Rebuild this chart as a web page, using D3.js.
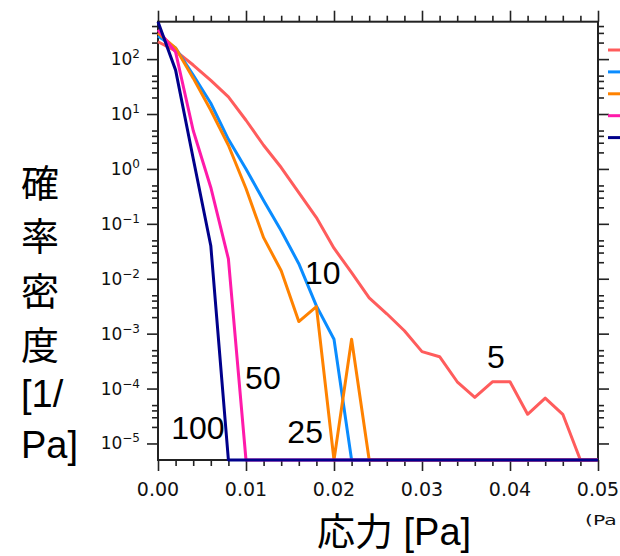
<!DOCTYPE html>
<html>
<head>
<meta charset="utf-8">
<script src="https://cdn.jsdelivr.net/npm/d3@7"></script>
<style>
  body { margin: 0; background: #fff; }
  svg { display: block; }
</style>
</head>
<body>
<div id="container"></div>
<script>
// stress values (Pa) where each PDF was sampled
var stress = [0.000, 0.002, 0.004, 0.006, 0.008, 0.010, 0.012, 0.014, 0.016, 0.018,
    0.020, 0.022, 0.024, 0.026, 0.028, 0.030, 0.032, 0.034, 0.036, 0.038,
    0.040, 0.042, 0.044, 0.046, 0.048, 0.050];

// probability density [1/Pa], one array per case (0 = nothing, drawn on the floor)
var pdf5 = [207, 141, 78, 41, 20.5, 7.7, 2.7, 1.06, 0.37, 0.13,
    0.036, 0.0129, 0.0045, 0.0023, 0.00113, 0.00047, 0.00038, 0.000133, 0.000069, 0.000133,
    0.000133, 0.000034, 0.000067, 0.000034, 0, 0];
var pdf10 = [263, 159, 51, 15.7, 3.46, 1.0, 0.265, 0.075, 0.0188, 0.0032,
    0.00079, 0, 0, 0, 0, 0, 0, 0, 0, 0, 0, 0, 0, 0, 0, 0];
var pdf25 = [299, 159, 45, 11.7, 2.7, 0.44, 0.056, 0.014, 0.00166, 0.0031,
    0, 0.00079, 0, 0, 0, 0, 0, 0, 0, 0, 0, 0, 0, 0, 0, 0];
var pdf50 = [340, 134, 5.0, 0.46, 0.023, 0, 0, 0, 0, 0,
    0, 0, 0, 0, 0, 0, 0, 0, 0, 0, 0, 0, 0, 0, 0, 0];
var pdf100 = [480, 63, 1.55, 0.04, 0, 0, 0, 0, 0, 0,
    0, 0, 0, 0, 0, 0, 0, 0, 0, 0, 0, 0, 0, 0, 0, 0];

var seriesNames = ["5", "10", "25", "50", "100"];
var seriesData = [pdf5, pdf10, pdf25, pdf50, pdf100];
var colors = ["#ff5c5c", "#0a8cff", "#ff8200", "#ff1aaa", "#00008b"];

// where the in-plot labels sit, in data units
var labelX = [0.0374, 0.0167, 0.0147, 0.0099, 0.0015];
var labelY = [2.4e-4, 8.1e-3, 1.0e-5, 9.8e-5, 1.19e-5];

var xTicks = [0.00, 0.01, 0.02, 0.03, 0.04, 0.05];
var yExponents = [2, 1, 0, -1, -2, -3, -4, -5];

//svg sizes
var width = 620, height = 556;
var plot = { left: 158, right: 598, top: 21.7, bottom: 460 };

var svg = d3.select("#container").append("svg")
    .attr("width", width)
    .attr("height", height);

var x = d3.scaleLinear()
    .domain([0, 0.05])
    .range([plot.left, plot.right]);

var y = d3.scaleLog()
    .domain([5e-6, 480])
    .range([plot.bottom, plot.top])
    .clamp(true);

// minor tick values: 2,3,4,5 in every decade, every 0.002 on x
var yMinor = [];
for (var e = -6; e <= 2; e++) {
    [2, 3, 4, 5].forEach(function (m) {
        var v = m * Math.pow(10, e);
        if (v >= 5e-6 && v <= 480) yMinor.push(v);
    });
}
var xMinor = stress.filter(function (s) {
    return Math.abs(s * 100 - Math.round(s * 100)) > 1e-6;
});
var yMajor = yExponents.map(function (p) { return Math.pow(10, p); });

var tickColor = "#222";

// ticks (outward on all four sides)
function drawTicks(axisGen, transform) {
    var g = svg.append("g").attr("transform", transform).call(axisGen);
    g.select(".domain").remove();
    g.selectAll("line").attr("stroke", tickColor).attr("stroke-width", 1.6);
    g.selectAll("text").remove();
}
drawTicks(d3.axisBottom(x).tickValues(xTicks).tickSize(11), "translate(0," + plot.bottom + ")");
drawTicks(d3.axisBottom(x).tickValues(xMinor).tickSize(6), "translate(0," + plot.bottom + ")");
drawTicks(d3.axisTop(x).tickValues(xTicks).tickSize(11), "translate(0," + plot.top + ")");
drawTicks(d3.axisTop(x).tickValues(xMinor).tickSize(6), "translate(0," + plot.top + ")");
drawTicks(d3.axisLeft(y).tickValues(yMajor).tickSize(11), "translate(" + plot.left + ",0)");
drawTicks(d3.axisLeft(y).tickValues(yMinor).tickSize(6), "translate(" + plot.left + ",0)");
drawTicks(d3.axisRight(y).tickValues(yMajor).tickSize(11), "translate(" + plot.right + ",0)");
drawTicks(d3.axisRight(y).tickValues(yMinor).tickSize(6), "translate(" + plot.right + ",0)");

// frame
svg.append("rect")
    .attr("x", plot.left)
    .attr("y", plot.top)
    .attr("width", plot.right - plot.left)
    .attr("height", plot.bottom - plot.top)
    .attr("fill", "none")
    .attr("stroke", tickColor)
    .attr("stroke-width", 2);

// x tick labels
svg.append("g").selectAll("text")
    .data(xTicks)
    .enter().append("text")
    .attr("x", function (d) { return x(d); })
    .attr("y", 496)
    .attr("text-anchor", "middle")
    .style("font-family", "DejaVu Sans")
    .style("font-size", "19px")
    .attr("fill", "#111")
    .text(function (d) { return d.toFixed(2); });

// y tick labels 10^n
var yl = svg.append("g").selectAll("text")
    .data(yExponents)
    .enter().append("text")
    .attr("x", 140)
    .attr("y", function (d) { return y(Math.pow(10, d)) + 6; })
    .attr("text-anchor", "end")
    .style("font-family", "DejaVu Sans")
    .style("font-size", "17px")
    .attr("fill", "#111");
yl.append("tspan").text("10");
yl.append("tspan")
    .attr("dy", -7)
    .style("font-size", "12px")
    .text(function (d) { return d < 0 ? "\u2212" + (-d) : String(d); });

// curves
var line = d3.line()
    .x(function (d, i) { return x(stress[i]); })
    .y(function (d) { return y(d); });

svg.append("g").selectAll(".curve")
    .data(seriesData)
    .enter().append("path")
    .attr("class", "curve")
    .attr("d", line)
    .attr("fill", "none")
    .attr("stroke", function (d, i) { return colors[i]; })
    .attr("stroke-width", 3)
    .attr("stroke-linejoin", "round");

// labels on the curves
svg.append("g").selectAll("text")
    .data(seriesNames)
    .enter().append("text")
    .attr("x", function (d, i) { return x(labelX[i]); })
    .attr("y", function (d, i) { return y(labelY[i]); })
    .style("font-family", "Liberation Sans, Arial, sans-serif")
    .style("font-size", "32px")
    .attr("fill", "#000")
    .text(function (d) { return d; });

// legend (cut by the window edge)
svg.append("g").selectAll("line")
    .data(colors)
    .enter().append("line")
    .attr("x1", 608)
    .attr("x2", 640)
    .attr("y1", function (d, i) { return 50 + i * 21.9; })
    .attr("y2", function (d, i) { return 50 + i * 21.9; })
    .attr("stroke", function (d) { return d; })
    .attr("stroke-width", 3);

// units note under the axis (wide, squat lettering)
svg.append("text")
    .attr("transform", "translate(585,525) scale(1.45,1)")
    .style("font-family", "DejaVu Sans")
    .style("font-size", "14px")
    .attr("fill", "#111")
    .text("(Pa");

// axis titles
svg.append("text")
    .attr("x", 394)
    .attr("y", 545)
    .attr("text-anchor", "middle")
    .style("font-family", "Liberation Sans, Noto Sans CJK JP, sans-serif")
    .style("font-size", "38px")
    .attr("fill", "#000")
    .text("応力 [Pa]");

var yTitle = ["確", "率", "密", "度", "[1/", "Pa]"];
var yTitleBase = [197, 250, 305, 359, 407, 458];
svg.append("g").selectAll("text")
    .data(yTitle)
    .enter().append("text")
    .attr("x", 21)
    .attr("y", function (d, i) { return yTitleBase[i]; })
    .style("font-family", "Liberation Sans, Noto Sans CJK JP, sans-serif")
    .style("font-size", "38px")
    .attr("fill", "#000")
    .text(function (d) { return d; });
</script>
</body>
</html>
